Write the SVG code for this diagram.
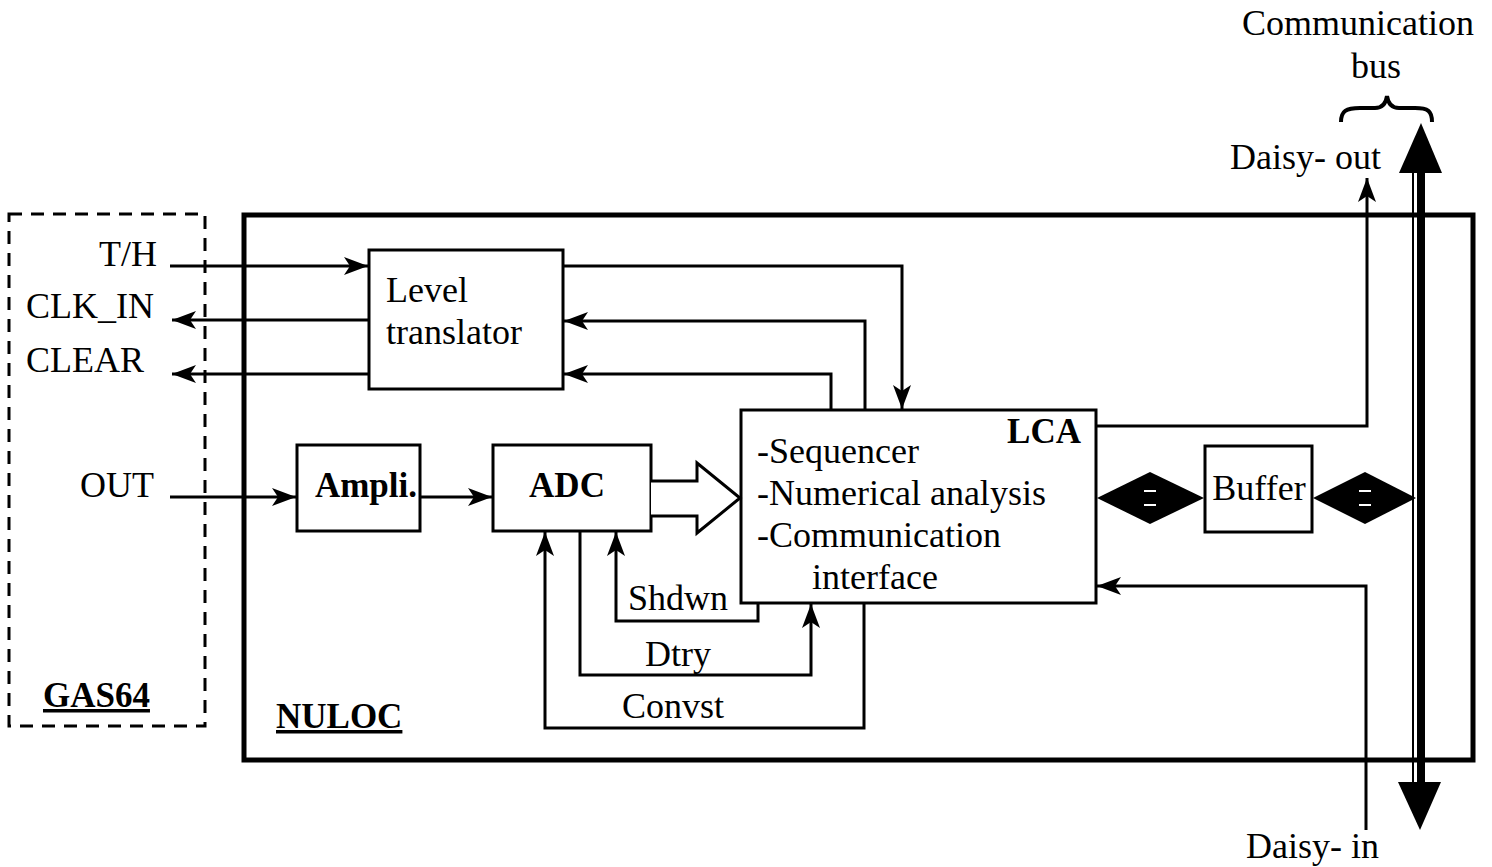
<svg xmlns="http://www.w3.org/2000/svg" width="1492" height="867" viewBox="0 0 1492 867">
  <style>
    text { font-family: "Liberation Serif", "Times New Roman", serif; font-size: 36px; fill: #000; }
    .b { font-weight: bold; font-size: 35px; }
    .u { text-decoration: underline; }
    .box { fill: #fff; stroke: #000; stroke-width: 3; }
    .wire { fill: none; stroke: #000; stroke-width: 3; }
  </style>
  <defs>
    <marker id="ah" viewBox="0 0 24 18" refX="24" refY="9" markerWidth="24" markerHeight="18" markerUnits="userSpaceOnUse" orient="auto">
      <path d="M0,0 L24,9 L0,18 L6,9 Z" fill="#000"/>
    </marker>
  </defs>

  <!-- frames -->
  <g id="gas64">
    <rect x="9" y="214" width="196" height="512" fill="none" stroke="#000" stroke-width="3" stroke-dasharray="13,9"/>
    <text x="43" y="707" class="b u">GAS64</text>
  </g>
  <g id="nuloc">
    <rect x="244" y="215" width="1229" height="545" fill="none" stroke="#000" stroke-width="5"/>
    <text x="276" y="728" class="b u">NULOC</text>
  </g>

  <!-- blocks -->
  <g id="level-translator">
    <rect class="box" x="369" y="250" width="194" height="139"/>
    <text x="386" y="302">Level</text>
    <text x="386" y="344">translator</text>
  </g>
  <g id="ampli">
    <rect class="box" x="297" y="445" width="123" height="86"/>
    <text x="366" y="497" class="b" text-anchor="middle">Ampli.</text>
  </g>
  <g id="adc">
    <rect class="box" x="493" y="445" width="158" height="86"/>
    <text x="567" y="497" class="b" text-anchor="middle">ADC</text>
  </g>
  <g id="lca">
    <rect class="box" x="741" y="410" width="355" height="193"/>
    <text x="1081" y="443" class="b" text-anchor="end">LCA</text>
    <text x="757" y="463">-Sequencer</text>
    <text x="757" y="505">-Numerical analysis</text>
    <text x="757" y="547">-Communication</text>
    <text x="812" y="589">interface</text>
  </g>
  <g id="buffer">
    <rect class="box" x="1205" y="446" width="107" height="86"/>
    <text x="1259" y="500" text-anchor="middle">Buffer</text>
  </g>

  <!-- signal labels -->
  <g id="labels">
    <text x="157" y="266" text-anchor="end">T/H</text>
    <text x="26" y="318">CLK_IN</text>
    <text x="26" y="372">CLEAR</text>
    <text x="80" y="497">OUT</text>
    <text x="628" y="610">Shdwn</text>
    <text x="645" y="666">Dtry</text>
    <text x="622" y="718">Convst</text>
    <text x="1358" y="35" text-anchor="middle">Communication</text>
    <text x="1376" y="78" text-anchor="middle">bus</text>
    <text x="1230" y="169">Daisy- out</text>
    <text x="1246" y="858">Daisy- in</text>
  </g>

  <!-- connectors -->
  <g id="connectors">
    <path class="wire" d="M170,266 H368" marker-end="url(#ah)"/>
    <path class="wire" d="M369,320 H172" marker-end="url(#ah)"/>
    <path class="wire" d="M369,374 H172" marker-end="url(#ah)"/>
    <path class="wire" d="M563,266 H902 V409" marker-end="url(#ah)"/>
    <path class="wire" d="M865,410 V321 H564" marker-end="url(#ah)"/>
    <path class="wire" d="M831,410 V374 H564" marker-end="url(#ah)"/>
    <path class="wire" d="M170,497 H296" marker-end="url(#ah)"/>
    <path class="wire" d="M420,497 H492" marker-end="url(#ah)"/>
    <!-- hollow data arrow ADC -> LCA -->
    <path d="M651,481 H697 V463 L740,498 L697,533 V516 H651" fill="#fff" stroke="#000" stroke-width="3" stroke-linejoin="miter"/>
    <!-- control lines under ADC / LCA -->
    <path class="wire" d="M758,603 V621 H616 V532" marker-end="url(#ah)"/>
    <path class="wire" d="M580,531 V675 H811 V604" marker-end="url(#ah)"/>
    <path class="wire" d="M864,603 V728 H545 V532" marker-end="url(#ah)"/>
    <!-- daisy chain -->
    <path class="wire" d="M1096,426 H1367 V178" marker-end="url(#ah)"/>
    <path class="wire" d="M1366,830 V586 H1097" marker-end="url(#ah)"/>
    <!-- bidirectional links LCA <-> Buffer <-> bus -->
    <path d="M1097,498 L1150,472 L1204,498 L1150,524 Z" fill="#000"/>
    <path d="M1144,491 H1156 M1144,505 H1156" stroke="#fff" stroke-width="2"/>
    <path d="M1313,498 L1365,472 L1416,498 L1365,524 Z" fill="#000"/>
    <path d="M1359,491 H1371 M1359,505 H1371" stroke="#fff" stroke-width="2"/>
    <!-- communication bus -->
    <g id="bus">
      <path d="M1413,165 V790" stroke="#000" stroke-width="2"/>
      <path d="M1421,165 V790" stroke="#000" stroke-width="8"/>
      <path d="M1421,123 L1442,173 L1399,173 Z" fill="#000"/>
      <path d="M1420,830 L1398,782 L1441,782 Z" fill="#000"/>
      <path d="M1341,122 C1341,111 1346,108 1360,108 L1375,108 C1383,108 1386,103 1387,96 C1388,103 1391,108 1399,108 L1415,108 C1428,108 1432,111 1432,122" fill="none" stroke="#000" stroke-width="4"/>
    </g>
  </g>
</svg>
